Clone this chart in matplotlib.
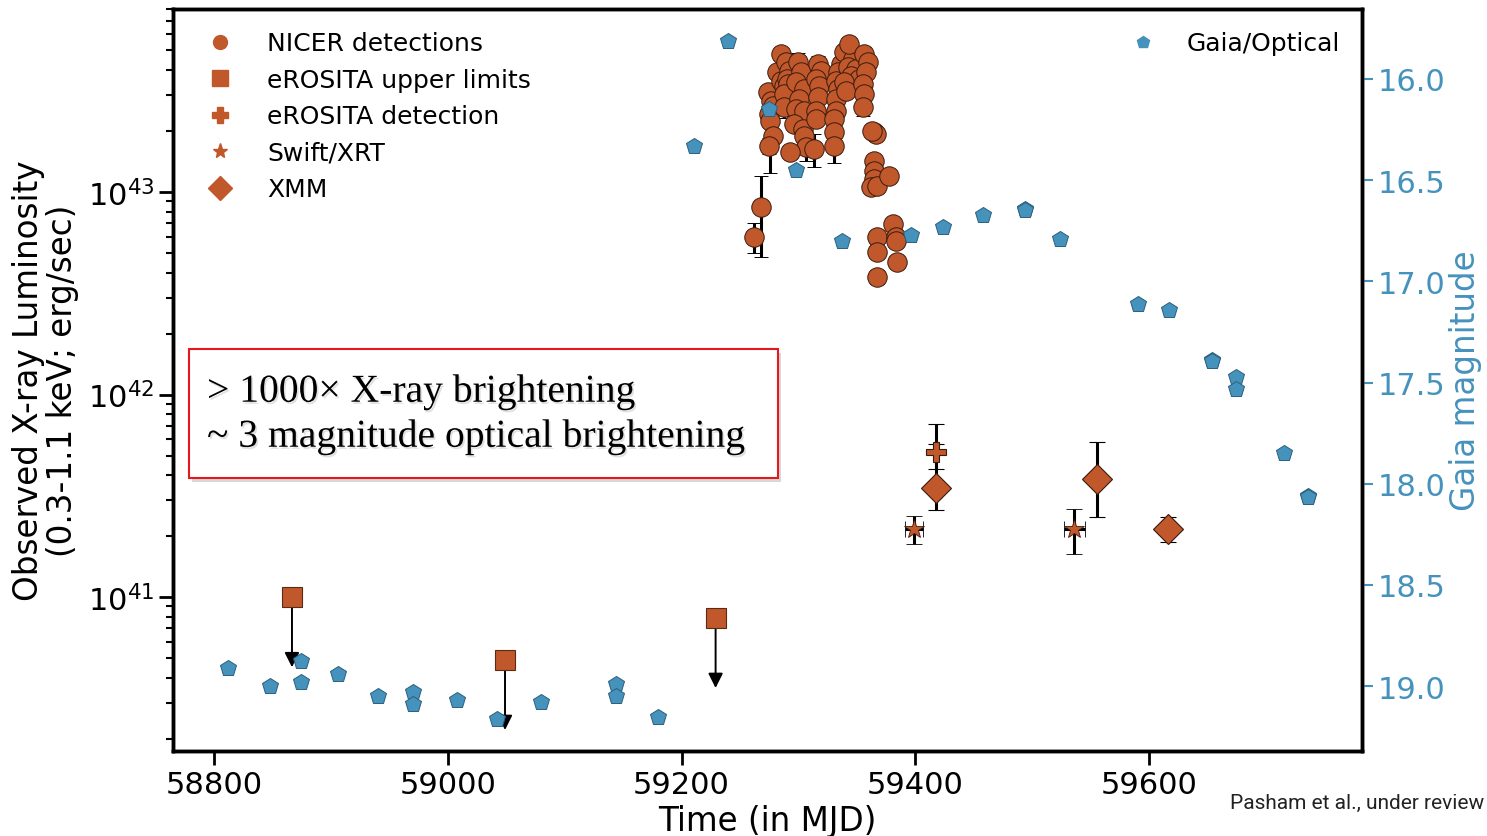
import matplotlib.pyplot as plt
import matplotlib.patheffects as pe
from matplotlib.lines import Line2D
from matplotlib.patches import Rectangle
from matplotlib.ticker import LogLocator, NullFormatter
import numpy as np

plt.rcParams['mathtext.default'] = 'regular'

# luminosities are written in units of 1e43 erg/s
LUM_UNIT = 1e43

# NICER light curve
nicer_mjd = [59261.7, 59267.7, 59273.7, 59276.2, 59278.0, 59274.5, 59276.0, 59278.0, 59274.5,
             59282.0, 59285.0, 59287.4, 59285.0, 59289.4, 59291.6, 59290.0, 59290.8, 59288.0, 59287.4,
             59299.4, 59302.0, 59297.6, 59304.4, 59300.2, 59297.6, 59304.4, 59295.8, 59303.5, 59304.4,
             59306.2, 59293.0,
             59316.5, 59319.0, 59315.0, 59317.3, 59316.5, 59315.0, 59315.0, 59313.0,
             59336.0, 59333.6, 59332.0, 59333.6, 59332.0, 59332.0, 59330.0, 59330.0, 59330.0,
             59338.8, 59346.5, 59342.2, 59349.0, 59344.8, 59351.6, 59338.8, 59343.0, 59340.5,
             59355.9, 59359.3, 59357.6, 59355.0, 59356.0, 59355.0,
             59364.4, 59366.0, 59362.7, 59364.4, 59364.4, 59364.4, 59362.0, 59367.0, 59377.3,
             59380.7, 59367.0, 59383.3, 59383.3, 59367.0, 59384.0, 59367.0]
nicer_lum = [0.60, 0.84, 3.12, 2.81, 2.66, 2.43, 2.24, 1.89, 1.69,
             3.92, 3.53, 3.34, 4.80, 4.38, 3.96, 3.61, 3.41, 3.05, 2.63,
             4.38, 3.92, 3.49, 3.23, 2.88, 2.57, 2.51, 2.17, 2.05, 1.89,
             1.67, 1.58,
             4.29, 3.96, 3.61, 3.34, 2.94, 2.51, 2.29, 1.63,
             4.29, 3.92, 3.53, 3.23, 2.88, 2.51, 2.29, 1.98, 1.69,
             4.91, 4.54, 4.14, 4.05, 3.74, 3.61, 3.49, 5.38, 3.16,
             4.80, 4.38, 3.92, 3.41, 3.05, 2.63,
             1.98, 1.93, 2.00, 1.42, 1.27, 1.16, 1.06, 1.07, 1.20,
             0.695, 0.60, 0.60, 0.573, 0.506, 0.451, 0.380]
nicer_err = [0.10, 0.36, 0.20, 0.15, 0.15, 0.15, 1.00, 0.12, 0.15,
             0.20, 0.20, 0.20, 0.30, 0.25, 0.20, 0.20, 0.20, 0.15, 0.30,
             0.50, 0.20, 0.20, 0.20, 0.15, 0.15, 0.15, 0.12, 0.12, 0.12,
             0.25, 0.10,
             0.40, 0.25, 0.20, 0.20, 0.15, 0.15, 0.15, 0.30,
             0.30, 0.20, 0.20, 0.20, 0.15, 0.15, 0.15, 0.12, 0.30,
             0.30, 0.30, 0.25, 0.25, 0.20, 0.20, 0.20, 0.40, 0.20,
             0.40, 0.25, 0.20, 0.20, 0.15, 0.25,
             0.10, 0.10, 0.10, 0.08, 0.08, 0.08, 0.06, 0.06, 0.08,
             0.04, 0.04, 0.04, 0.04, 0.03, 0.03, 0.03]

# eROSITA upper limits
erosita_ul_mjd = [58866.8, 59049.0, 59229.1]
erosita_ul_lum = [0.0100, 0.0049, 0.0079]
ul_arrow_drop = 0.45

# eROSITA detection
erosita_mjd = [59417.6]
erosita_lum = [0.052]
erosita_err_lo = [0.0091]
erosita_err_hi = [0.0194]

# Swift/XRT
swift_mjd = [59398.7, 59535.8]
swift_lum = [0.0217, 0.0217]
swift_err_lo = [0.0034, 0.0054]
swift_err_hi = [0.0034, 0.0055]
swift_dt = [7.7, 9.0]

# XMM
xmm_mjd = [59417.6, 59555.5, 59616.3]
xmm_lum = [0.0345, 0.0383, 0.0217]
xmm_err_lo = [0.0076, 0.0135, 0.0030]
xmm_err_hi = [0.0225, 0.0199, 0.0031]

# Gaia optical magnitudes
gaia_mjd = [58812, 58848, 58874.5, 58874.5, 58906, 58940, 58970, 58970, 59008, 59042,
            59080, 59144, 59144, 59180, 59211, 59240, 59274.5, 59297.5, 59337, 59396,
            59424, 59458, 59494, 59494, 59524, 59590, 59617, 59654, 59654, 59674.5,
            59674.5, 59715, 59736, 59736]
gaia_mag = [18.91, 19.00, 18.875, 18.98, 18.94, 19.05, 19.03, 19.09, 19.07, 19.16,
            19.08, 18.99, 19.05, 19.15, 16.33, 15.81, 16.15, 16.45, 16.80, 16.77,
            16.73, 16.67, 16.64, 16.645, 16.79, 17.11, 17.14, 17.39, 17.395, 17.47,
            17.53, 17.85, 18.06, 18.065]

orange = '#c0582c'
blue = '#4592bd'
capgray = '0.55'

fig = plt.figure(figsize=(14.87, 8.37), dpi=100)
ax = fig.add_axes([0.1163, 0.1016, 0.7997, 0.8865])


def grey_caps(cont):
    for cap in cont.lines[1]:
        cap.set_color(capgray)


c = ax.errorbar(nicer_mjd, np.array(nicer_lum) * LUM_UNIT, yerr=np.array(nicer_err) * LUM_UNIT,
                fmt='o', ms=14, mfc=orange, mec='#3b1a0c', mew=0.7, ecolor='k', elinewidth=2.2,
                capsize=5, zorder=3)
grey_caps(c)

ul = np.array(erosita_ul_lum) * LUM_UNIT
for m, l in zip(erosita_ul_mjd, ul):
    ax.annotate('', xy=(m, l * ul_arrow_drop), xytext=(m, l),
                arrowprops=dict(arrowstyle='-|>', color='k', lw=1.4, mutation_scale=22,
                                shrinkA=0, shrinkB=0), zorder=3)
ax.plot(erosita_ul_mjd, ul, 's', ms=14, mfc=orange, mec='#5a2a12', mew=0.8, zorder=4)

c = ax.errorbar(swift_mjd, np.array(swift_lum) * LUM_UNIT,
                yerr=[np.array(swift_err_lo) * LUM_UNIT, np.array(swift_err_hi) * LUM_UNIT],
                xerr=swift_dt, fmt='*', ms=15, mfc=orange, mec='#3b1a0c', mew=0.6,
                ecolor='k', elinewidth=2.2, capsize=6, zorder=3)
grey_caps(c)

c = ax.errorbar(erosita_mjd, np.array(erosita_lum) * LUM_UNIT,
                yerr=[np.array(erosita_err_lo) * LUM_UNIT, np.array(erosita_err_hi) * LUM_UNIT],
                fmt='P', ms=14, mfc=orange, mec='#3b1a0c', mew=0.8,
                ecolor='k', elinewidth=2.2, capsize=6, zorder=3)
grey_caps(c)

c = ax.errorbar(xmm_mjd, np.array(xmm_lum) * LUM_UNIT,
                yerr=[np.array(xmm_err_lo) * LUM_UNIT, np.array(xmm_err_hi) * LUM_UNIT],
                fmt='D', ms=15, mfc=orange, mec='#3b1a0c', mew=0.8,
                ecolor='k', elinewidth=2.2, capsize=6, zorder=3)
grey_caps(c)

ax.set_yscale('log')
ax.set_xlim(58765, 59782)
ax.set_ylim(10 ** 40.24, 10 ** 43.904)
ax.set_xticks([58800, 59000, 59200, 59400, 59600])
ax.yaxis.set_major_locator(LogLocator(base=10, numticks=10))
ax.yaxis.set_minor_locator(LogLocator(base=10, subs=np.arange(2, 10), numticks=20))
ax.yaxis.set_minor_formatter(NullFormatter())
ax.tick_params(axis='both', which='major', labelsize=22, length=10, width=2)
ax.tick_params(axis='y', which='minor', length=5, width=1.5)
for s in ax.spines.values():
    s.set_linewidth(2.5)

ax.set_xlabel('Time (in MJD)', fontsize=23.5, labelpad=4)
ax.set_ylabel('Observed X-ray Luminosity\n(0.3-1.1 keV; erg/sec)', fontsize=23.5,
              linespacing=1.05, labelpad=6)

handles = [
    Line2D([], [], ls='none', marker='o', ms=10, mfc=orange, mec=orange),
    Line2D([], [], ls='none', marker='s', ms=11, mfc=orange, mec=orange),
    Line2D([], [], ls='none', marker='P', ms=11, mfc=orange, mec=orange),
    Line2D([], [], ls='none', marker='*', ms=11, mfc=orange, mec=orange),
    Line2D([], [], ls='none', marker='D', ms=12, mfc=orange, mec=orange),
]
labels = ['NICER detections', 'eROSITA upper limits', 'eROSITA detection', 'Swift/XRT', 'XMM']
ax.legend(handles, labels, loc='upper left', frameon=False, fontsize=18,
          handletextpad=0.86, labelspacing=0.5, borderaxespad=0.5)

# optical light curve on the right-hand axis
ax2 = ax.twinx()
ax2.plot(gaia_mjd, gaia_mag, 'p', ms=12, mfc=blue, mec='#2c5f7c', mew=0.7,
         ls='none', label='Gaia/Optical', zorder=5)
ax2.set_ylim(19.32, 15.654)
ax2.set_yticks([16.0, 16.5, 17.0, 17.5, 18.0, 18.5, 19.0])
ax2.tick_params(axis='y', labelsize=22, length=8, width=1.5, colors=blue)
ax2.set_ylabel('Gaia magnitude', fontsize=23.5, color=blue, labelpad=2)
for s in ax2.spines.values():
    s.set_linewidth(2.5)
ax2.legend(handles=[Line2D([], [], ls='none', marker='p', ms=9, mfc=blue, mec=blue)],
           labels=['Gaia/Optical'], loc='upper right', frameon=False, fontsize=18,
           handletextpad=0.72, borderaxespad=0.5)

# summary box
box_shadow = [pe.withSimplePatchShadow(offset=(2, -3), shadow_rgbFace='0.7', alpha=0.5)]
text_shadow = [pe.withSimplePatchShadow(offset=(1.2, -1.5), shadow_rgbFace='0.8', alpha=0.6)]
box = Rectangle((189 / 1487, 1 - 479 / 837), (778 - 189) / 1487, (479 - 350) / 837,
                transform=fig.transFigure, facecolor='white', edgecolor='#e4191e', lw=1.5,
                zorder=10, path_effects=box_shadow)
fig.patches.append(box)
fig.text(207 / 1487, 1 - 393 / 837, '> 1000\u00d7 X-ray brightening', fontsize=28.5,
         family='Liberation Serif', va='center', zorder=11, path_effects=text_shadow)
fig.text(207 / 1487, 1 - 438 / 837, '~ 3 magnitude optical brightening', fontsize=28.5,
         family='Liberation Serif', va='center', zorder=11, path_effects=text_shadow)

fig.text(0.998, 1 - 803 / 837, 'Pasham et al., under review', fontsize=15,
         family='Roboto', ha='right', va='center', color='#222222')

fig.savefig('out.png', dpi=100)
